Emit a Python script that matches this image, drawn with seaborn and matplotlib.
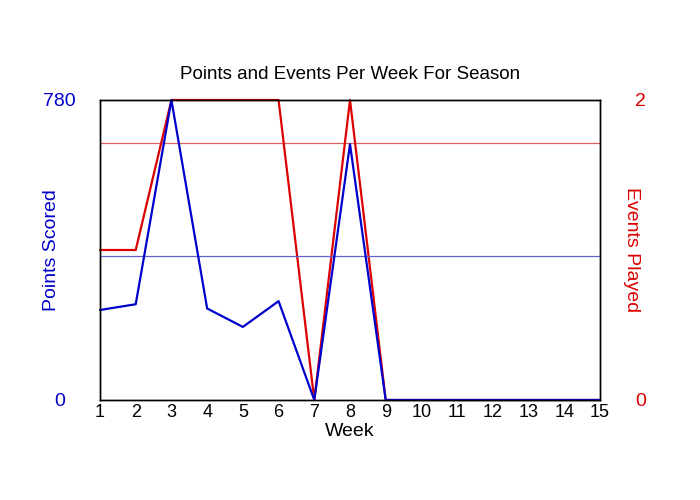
import numpy as np
import pandas as pd
import matplotlib
matplotlib.use("Agg")
import matplotlib.pyplot as plt
import seaborn as sns

# ---------------------------------------------------------------------------
# Data
# ---------------------------------------------------------------------------
weeks = list(range(1, 16))
points = [234, 249, 780, 238, 190, 257, 0, 665, 0, 0, 0, 0, 0, 0, 0]
events = [1, 1, 2, 2, 2, 2, 0, 2, 0, 0, 0, 0, 0, 0, 0]
avg_points = 374   # average over weeks with events
avg_events = 1.714

BLUE = "#0000CC"
RED = "#DD0000"

sns.set_style("white")
plt.rcParams["font.family"] = ["Liberation Sans", "DejaVu Sans"]
plt.rcParams["text.color"] = "black"
plt.rcParams["axes.labelcolor"] = "black"
plt.rcParams["xtick.color"] = "black"

df = pd.DataFrame({"Week": weeks, "Points": points, "Events": events})

fig = plt.figure(figsize=(7, 5), dpi=100)
ax = fig.add_axes([100 / 700, 0.2, 500 / 700, 0.6])
ax2 = ax.twinx()

# events (right axis)
ax2.axhline(avg_events, color="#E06060", lw=0.9)
sns.lineplot(data=df, x="Week", y="Events", ax=ax2, color=RED, lw=1.6,
             clip_on=False)
ax2.set_ylim(0, 2)
ax2.set_yticks([0, 2])
ax2.tick_params(axis="y", length=0, pad=29, labelsize=14, labelcolor=RED)
for t in ax2.get_yticklabels():
    t.set_horizontalalignment("center")
ax2.set_ylabel("Events Played", color=RED, fontsize=14, rotation=270)
ax2.yaxis.set_label_coords(1.08, 0.5)

# points (left axis)
ax.axhline(avg_points, color="#6060D0", lw=0.9)
sns.lineplot(data=df, x="Week", y="Points", ax=ax, color=BLUE, lw=1.6,
             clip_on=False)
ax.set_ylim(0, 780)
ax.set_yticks([0, 780])
ax.tick_params(axis="y", length=0, pad=29, labelsize=14, labelcolor=BLUE)
for t in ax.get_yticklabels():
    t.set_horizontalalignment("center")
ax.set_ylabel("Points Scored", color=BLUE, fontsize=14)
ax.yaxis.set_label_coords(-0.08, 0.5)

ax.set_zorder(ax2.get_zorder() + 1)
ax.patch.set_visible(False)

ax.set_xlim(1, 15)
ax.set_xticks(weeks)
ax.tick_params(axis="x", length=0, pad=3, labelsize=13, labelcolor="black")
ax.set_xlabel("Week", fontsize=14, labelpad=1)
ax.set_title("Points and Events Per Week For Season", fontsize=13.5, pad=15)

for a in (ax, ax2):
    for s in a.spines.values():
        s.set_color("black")
        s.set_linewidth(1)

fig.savefig("out.png", dpi=100)
